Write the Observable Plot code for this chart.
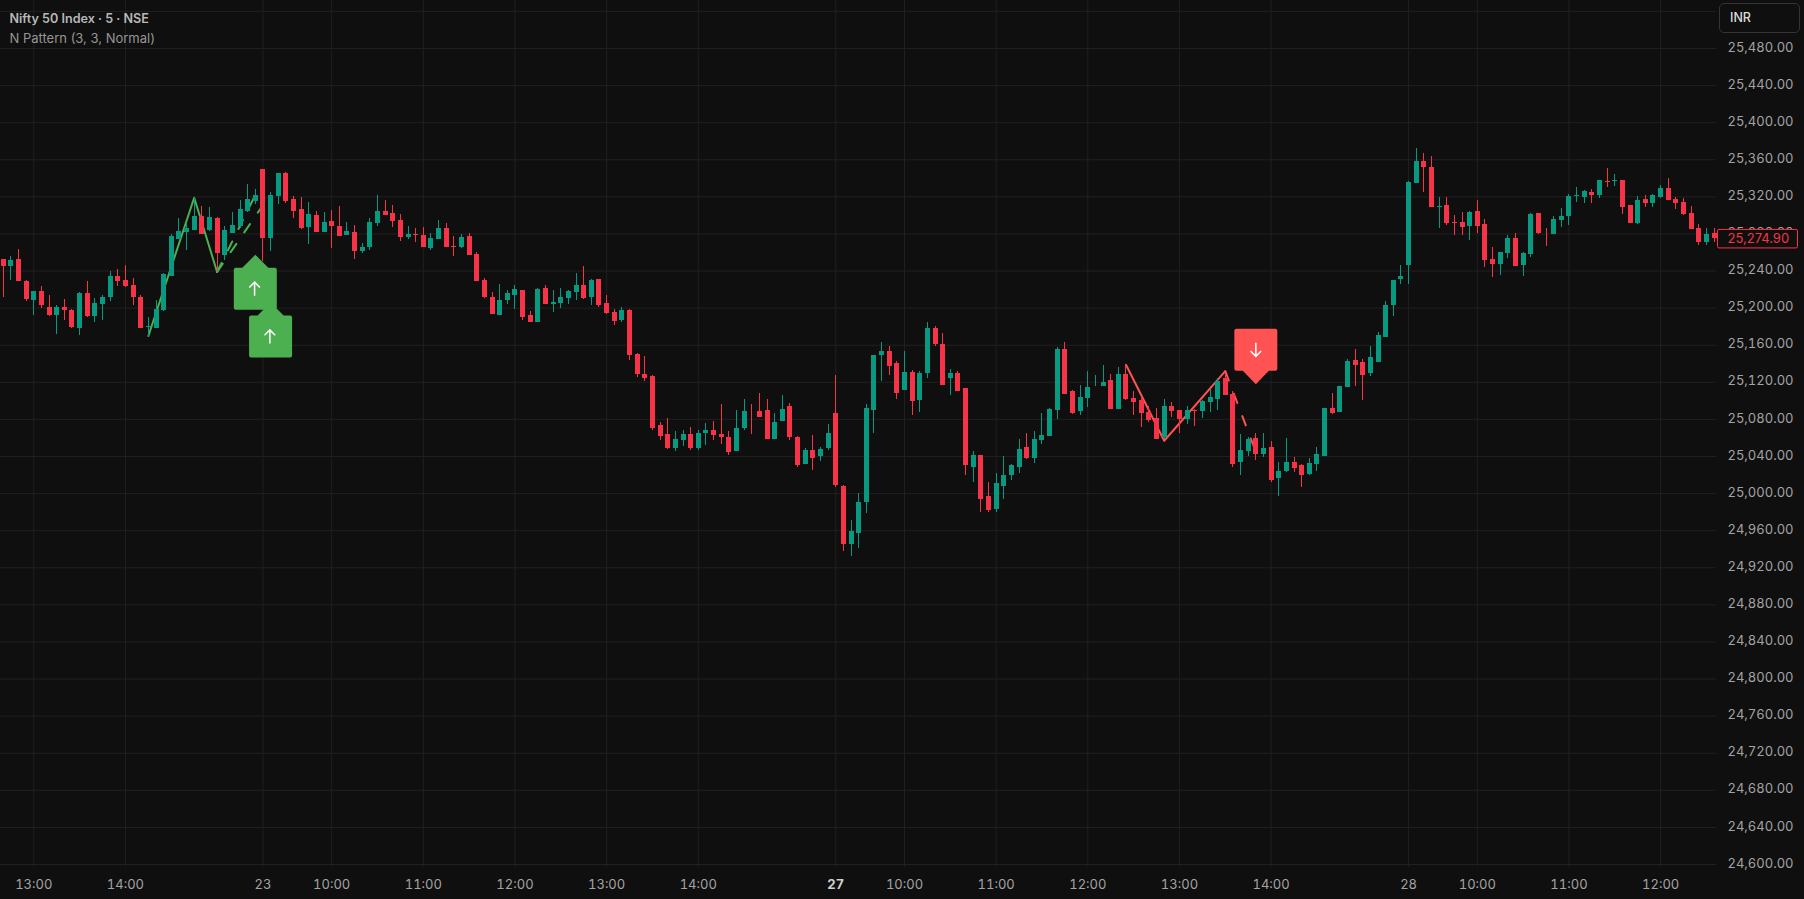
<!DOCTYPE html>
<html>
<head>
<meta charset="utf-8">
<script src="https://cdn.jsdelivr.net/npm/d3@7"></script>
<script src="https://cdn.jsdelivr.net/npm/@observablehq/plot@0.6"></script>
<style>
html,body{margin:0;padding:0;background:#0f0f0f;overflow:hidden}
#wrap{position:relative;width:1804px;height:899px}
#inr{position:absolute;left:1719px;top:3px;width:81px;height:30px;box-sizing:border-box;border:1px solid #343434;border-radius:5px;background:#0f0f0f;color:#dcdcdc;font:500 12.5px Inter,sans-serif;line-height:28px;padding-left:10px}
</style>
</head>
<body>
<div id="wrap"><div id="inr">INR</div></div>
<script>
const opens = [
25252,25245,25252,25229,25208,25218,25201,25192,25201,25197,
25178,25216,25191,25204,25211,25234,25230,25224,25212,25179,
25178,25197,25234,25274,25282,25284,25299,25284,25297,25257,
25280,25288,25304,25315,25349,25275,25320,25345,25317,25306,
25287,25300,25282,25293,25288,25278,25282,25261,25265,25291,
25304,25302,25294,25276,25279,25278,25264,25274,25286,25266,
25265,25277,25258,25230,25212,25192,25208,25214,25219,25192,
25185,25221,25204,25205,25210,25217,25224,25211,25231,25205,
25195,25187,25197,25150,25128,25126,25073,25064,25049,25057,
25064,25049,25065,25068,25064,25061,25045,25070,25089,25088,
25090,25058,25078,25094,25061,25031,25047,25040,25049,25086,
25008,24945,24957,24990,25090,25149,25153,25140,25111,25131,
25100,25129,25178,25161,25124,25129,25113,25028,25041,24997,
24983,25008,25019,25028,25050,25038,25057,25062,25090,25155,
25110,25088,25103,25115,25116,25122,25091,25128,25103,25100,
25087,25081,25060,25094,25090,25080,25090,25088,25098,25102,
25124,25107,25033,25045,25059,25042,25050,25016,25024,25034,
25030,25021,25031,25040,25092,25087,25114,25143,25141,25129,
25141,25168,25203,25231,25246,25334,25358,25352,25309,25311,
25292,25292,25288,25304,25290,25252,25247,25259,25275,25246,
25258,25302,25281,25279,25294,25299,25320,25319,25325,25321,
25337,25337,25338,25311,25291,25317,25313,25319,25329,25317,
25314,25302,25286,25271,25280];
const closes = [
25245,25251,25229,25209,25218,25203,25192,25201,25197,25179,
25216,25191,25205,25212,25234,25229,25223,25211,25178,25180,
25198,25236,25277,25283,25286,25299,25279,25298,25259,25284,
25289,25306,25317,25322,25275,25322,25345,25315,25304,25286,
25301,25282,25292,25288,25277,25283,25261,25265,25292,25304,
25300,25293,25276,25279,25278,25265,25275,25286,25265,25265,
25276,25257,25229,25211,25193,25208,25216,25220,25190,25185,
25220,25204,25206,25212,25218,25224,25210,25230,25203,25194,
25186,25197,25149,25128,25124,25070,25062,25049,25058,25064,
25049,25065,25068,25063,25060,25044,25070,25089,25088,25082,
25058,25077,25091,25060,25030,25046,25038,25048,25065,25009,
24945,24959,24990,25092,25149,25153,25137,25108,25131,25099,
25129,25178,25161,25117,25129,25110,25030,25041,24994,24982,
25011,25020,25030,25048,25038,25058,25063,25091,25155,25107,
25086,25104,25114,25116,25120,25091,25128,25102,25098,25086,
25079,25058,25094,25088,25080,25090,25089,25099,25104,25121,
25106,25031,25046,25058,25042,25049,25014,25024,25034,25027,
25020,25032,25042,25092,25086,25115,25142,25138,25127,25147,
25170,25203,25230,25234,25336,25358,25352,25308,25310,25291,
25291,25287,25303,25288,25251,25247,25260,25275,25245,25259,
25301,25280,25280,25296,25299,25320,25321,25326,25321,25338,
25336,25338,25308,25291,25316,25313,25321,25329,25316,25313,
25301,25285,25271,25279,25274.9];
const highs = [
25252,25256,25263,25230,25218,25223,25214,25203,25209,25199,
25217,25229,25210,25214,25240,25242,25246,25232,25214,25190,
25208,25237,25279,25297,25291,25319,25310,25309,25298,25288,
25303,25316,25333,25328,25349,25325,25345,25346,25320,25319,
25314,25304,25303,25305,25310,25292,25289,25270,25297,25322,
25316,25311,25301,25288,25286,25287,25280,25294,25291,25277,
25279,25280,25260,25232,25217,25225,25219,25224,25219,25196,
25221,25224,25219,25221,25219,25237,25245,25231,25231,25214,
25199,25201,25198,25151,25148,25127,25077,25081,25067,25068,
25071,25068,25076,25078,25096,25067,25090,25101,25096,25108,
25101,25086,25106,25097,25062,25049,25063,25050,25075,25127,
25009,24971,25000,25096,25149,25163,25159,25142,25153,25133,
25132,25185,25180,25173,25134,25132,25113,25045,25041,25012,
25022,25040,25031,25058,25065,25067,25086,25092,25158,25163,
25111,25117,25132,25127,25138,25128,25136,25139,25110,25103,
25094,25092,25101,25098,25090,25094,25091,25100,25112,25124,
25128,25110,25064,25060,25065,25065,25056,25033,25059,25039,
25031,25038,25050,25092,25108,25115,25145,25155,25145,25159,
25174,25207,25230,25246,25337,25372,25367,25364,25319,25319,
25300,25303,25304,25316,25296,25265,25260,25278,25281,25260,
25302,25302,25286,25299,25307,25323,25330,25327,25328,25338,
25351,25344,25338,25311,25320,25321,25323,25332,25340,25319,
25318,25310,25290,25286,25286];
const lows = [
25211,25230,25229,25207,25192,25200,25191,25172,25187,25178,
25170,25190,25185,25187,25207,25223,25222,25203,25178,25169,
25178,25196,25234,25274,25262,25284,25279,25283,25239,25251,
25280,25286,25303,25312,25250,25261,25312,25313,25297,25285,
25269,25282,25282,25264,25277,25278,25252,25259,25262,25288,
25300,25287,25272,25274,25271,25265,25262,25274,25265,25256,
25264,25257,25229,25210,25193,25192,25204,25199,25187,25184,
25185,25204,25195,25200,25204,25208,25209,25203,25201,25193,
25181,25184,25143,25125,25121,25068,25057,25048,25045,25051,
25047,25047,25052,25057,25053,25041,25045,25068,25064,25082,
25058,25058,25078,25057,25028,25031,25025,25035,25046,25007,
24938,24932,24941,24978,25065,25121,25127,25101,25111,25084,
25087,25124,25159,25117,25106,25110,25020,25012,24980,24980,
24980,24994,25014,25022,25037,25032,25053,25062,25080,25107,
25085,25084,25093,25115,25115,25091,25091,25100,25084,25071,
25077,25058,25058,25082,25065,25075,25072,25081,25087,25090,
25106,25028,25019,25040,25036,25039,25012,24997,25023,25023,
25007,25019,25024,25040,25085,25087,25114,25116,25100,25126,
25141,25168,25191,25225,25225,25334,25325,25308,25286,25289,
25278,25278,25273,25281,25244,25233,25235,25254,25245,25234,
25255,25279,25267,25279,25287,25289,25314,25313,25313,25318,
25330,25331,25301,25291,25290,25308,25309,25318,25316,25306,
25300,25285,25268,25268,25271];

const timeTickIndex = [4,16,34,43,55,67,79,91,109,118,130,142,154,166,184,193,205,217];
const timeTickLabels = ["13:00","14:00","23","10:00","11:00","12:00","13:00","14:00","27","10:00","11:00","12:00","13:00","14:00","28","10:00","11:00","12:00"];
const boldDayIndex = [109];

const gridPrices = d3.range(24600, 25521, 40);
const labelPrices = gridPrices.filter(p => p <= 25480);

const bullLegIndex = [19,25,28];
const bullLegPrice = [25170,25319,25239];
const bullTargetA = [[28,25239],[33,25322]];
const bullTargetB = [[28,25239],[34,25311]];
const bearLegIndex = [147,152,160];
const bearLegPrice = [25139,25057,25132];
const bearTarget = [[160,25132],[164,25045]];

const buyMarkerIndex = [33,35];
const buyMarkerPrice = [25221,25169.5];
const sellMarkerIndex = [164];
const sellMarkerPrice = [25155];

const titleLines = ["Nifty 50 Index · 5 · NSE"];
const subtitleLines = ["N Pattern (3, 3, Normal)"];

const lastPrice = 25274.90;
const currency = "INR";

const UP = "#089981", DOWN = "#F73347", BG = "#0f0f0f", GRID = "#202020", AXIS = "#a3a3a3";
const PATTERN_UP = "#4CAF50", PATTERN_DOWN = "#FF5252";

const candles = opens.map((o,i)=>({i,open:o,close:closes[i],high:highs[i],low:lows[i]}));
const isUp = d => d.close >= d.open;
const zip = (xs,ys) => xs.map((x,k)=>[x,ys[k]]);
const labelOf = new Map(timeTickIndex.map((x,k)=>[x,timeTickLabels[k]]));

function roundedRect(c,w,h,r){
  c.moveTo(-w/2+r,-h/2);
  c.lineTo(w/2-r,-h/2); c.arcTo(w/2,-h/2,w/2,-h/2+r,r);
  c.lineTo(w/2,h/2-r);  c.arcTo(w/2,h/2,w/2-r,h/2,r);
  c.lineTo(-w/2+r,h/2); c.arcTo(-w/2,h/2,-w/2,h/2-r,r);
  c.lineTo(-w/2,-h/2+r);c.arcTo(-w/2,-h/2,-w/2+r,-h/2,r);
  c.closePath();
}
const buyShape = {draw(c){
  c.moveTo(0,-34); c.lineTo(13,-21); c.lineTo(19.5,-21); c.arcTo(21.5,-21,21.5,-19,2);
  c.lineTo(21.5,19); c.arcTo(21.5,21,19.5,21,2); c.lineTo(-19.5,21); c.arcTo(-21.5,21,-21.5,19,2);
  c.lineTo(-21.5,-19); c.arcTo(-21.5,-21,-19.5,-21,2); c.lineTo(-13,-21); c.closePath();
}};
const sellShape = {draw(c){
  c.moveTo(0,34.5); c.lineTo(13,21); c.lineTo(19.5,21); c.arcTo(21.5,21,21.5,19,2);
  c.lineTo(21.5,-19); c.arcTo(21.5,-21,19.5,-21,2); c.lineTo(-19.5,-21); c.arcTo(-21.5,-21,-21.5,-19,2);
  c.lineTo(-21.5,19); c.arcTo(-21.5,21,-19.5,21,2); c.lineTo(-13,21); c.closePath();
}};
const upArrow = {draw(c){ c.moveTo(-0.7,7); c.lineTo(-0.7,-6.5); c.moveTo(-6,-1.2); c.lineTo(-0.7,-6.5); c.lineTo(4.6,-1.2); }};
const downArrow = {draw(c){ c.moveTo(0,-7); c.lineTo(0,6.5); c.moveTo(-5.3,1.2); c.lineTo(0,6.5); c.lineTo(5.3,1.2); }};
const priceBox = {draw(c){ roundedRect(c,80,18.5,1.5); }};

const chart = Plot.plot({
  width:1804, height:899,
  marginTop:0, marginLeft:0, marginRight:88, marginBottom:35,
  style:{background:BG, fontFamily:"Inter, sans-serif", fontSize:"13px", color:AXIS},
  x:{type:"linear", domain:[0,224], range:[2.75,1713.6], axis:null},
  y:{type:"linear", domain:[25520,24600], range:[10.9,864], axis:null},
  marks:[
    Plot.ruleY(gridPrices,{stroke:GRID, strokeWidth:1}),
    Plot.ruleX(timeTickIndex,{y1:25532, y2:24597, stroke:GRID, strokeWidth:1}),

    Plot.line(zip(bullLegIndex,bullLegPrice),{stroke:PATTERN_UP, strokeWidth:2, curve:"linear"}),
    Plot.line(bullTargetA,{stroke:PATTERN_UP, strokeWidth:2, strokeDasharray:"10,14"}),
    Plot.line(bullTargetB,{stroke:PATTERN_UP, strokeWidth:2, strokeDasharray:"10,14"}),
    Plot.line(zip(bearLegIndex,bearLegPrice),{stroke:PATTERN_DOWN, strokeWidth:2}),
    Plot.line(bearTarget,{stroke:PATTERN_DOWN, strokeWidth:2, strokeDasharray:"10,14"}),

    Plot.ruleX(candles,{filter:isUp, x:"i", y1:"low", y2:"high", stroke:UP, strokeWidth:1, shapeRendering:"crispEdges"}),
    Plot.ruleX(candles,{filter:d=>!isUp(d), x:"i", y1:"low", y2:"high", stroke:DOWN, strokeWidth:1, shapeRendering:"crispEdges"}),
    Plot.ruleX(candles,{filter:isUp, x:"i", y1:"open", y2:"close", stroke:UP, strokeWidth:5, shapeRendering:"crispEdges"}),
    Plot.ruleX(candles,{filter:d=>!isUp(d), x:"i", y1:"open", y2:"close", stroke:DOWN, strokeWidth:5, shapeRendering:"crispEdges"}),

    Plot.dot(zip(buyMarkerIndex,buyMarkerPrice),{x:d=>d[0], y:d=>d[1], symbol:buyShape, fill:PATTERN_UP, stroke:"none"}),
    Plot.dot(zip(buyMarkerIndex,buyMarkerPrice),{x:d=>d[0], y:d=>d[1], symbol:upArrow, fill:"none", stroke:"#ffffff", strokeWidth:1.5}),
    Plot.dot(zip(sellMarkerIndex,sellMarkerPrice),{x:d=>d[0], y:d=>d[1], symbol:sellShape, fill:PATTERN_DOWN, stroke:"none"}),
    Plot.dot(zip(sellMarkerIndex,sellMarkerPrice),{x:d=>d[0], y:d=>d[1], symbol:downArrow, fill:"none", stroke:"#ffffff", strokeWidth:1.5}),

    Plot.axisY({anchor:"right", ticks:labelPrices, tickSize:0, tickPadding:11, label:null, fill:AXIS, dy:-1,
      tickFormat:d=>d3.format(",.2f")(d), fontSize:13, fontWeight:400}),
    Plot.axisX({anchor:"bottom", ticks:timeTickIndex.filter(x=>!boldDayIndex.includes(x)), tickSize:0, tickPadding:15, label:null, fill:AXIS,
      tickFormat:d=>labelOf.get(d), fontSize:13}),
    Plot.axisX({anchor:"bottom", ticks:boldDayIndex, tickSize:0, tickPadding:15, label:null, fill:"#d0d0d0", fontWeight:"bold",
      tickFormat:d=>labelOf.get(d), fontSize:13}),

    Plot.dot([lastPrice],{x:()=>224, y:d=>d, dx:43.4, symbol:priceBox, fill:BG, stroke:DOWN, strokeWidth:1}),
    Plot.text([lastPrice],{x:()=>224, y:d=>d, dx:13.4, text:d=>d3.format(",.2f")(d), textAnchor:"start", fill:DOWN, fontSize:13}),

    Plot.text(titleLines,{frameAnchor:"top-left", dx:9, dy:13.5, text:d=>d, textAnchor:"start", fill:"#b8b8b8", fontWeight:600, fontSize:12.6}),
    Plot.text(subtitleLines,{frameAnchor:"top-left", dx:9, dy:33, text:d=>d, textAnchor:"start", fill:"#969696", fontSize:13})
  ]
});
const wrap = document.getElementById("wrap");
chart.style.position="absolute"; chart.style.left="0"; chart.style.top="0";
wrap.insertBefore(chart, wrap.firstChild);
document.getElementById("inr").textContent = currency;
</script>
</body>
</html>
